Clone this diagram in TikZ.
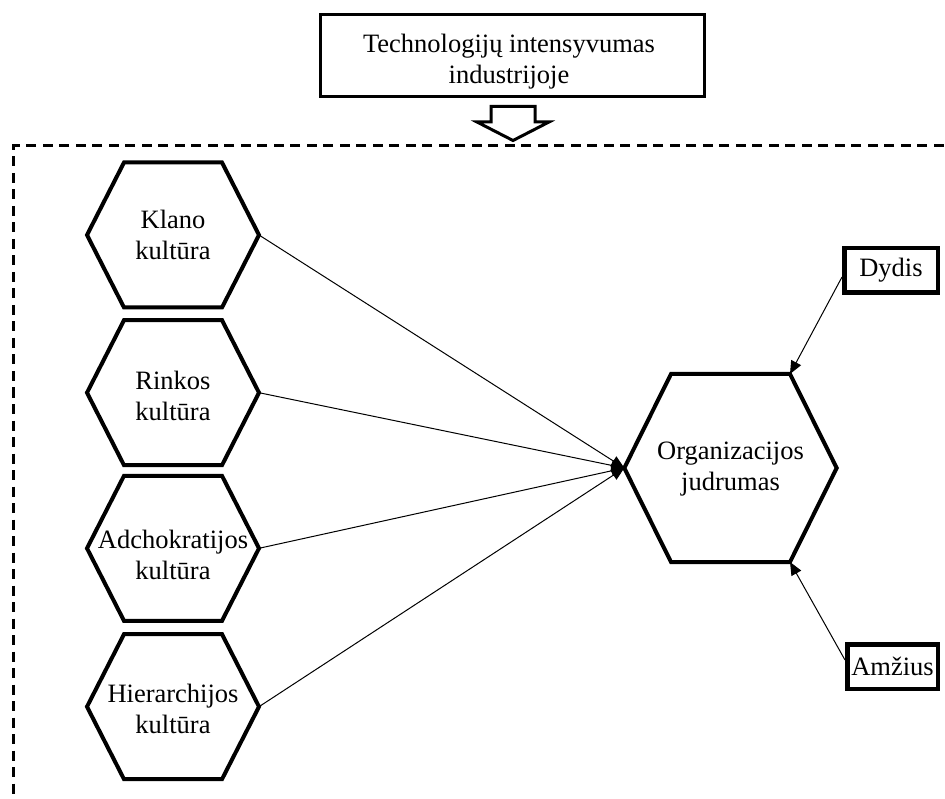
\documentclass[tikz,border=0pt]{standalone}
\usepackage{fontspec}
\setmainfont{Liberation Serif}
\usetikzlibrary{arrows.meta}

% Flat-topped hexagon: name, centre x, centre y, half-width, half top edge, half-height, style
\newcommand{\hexagonat}[7]{%
  \draw[#7] (#2-#4,#3) coordinate (#1-W)
    -- (#2-#5,#3-#6) coordinate (#1-NW)
    -- (#2+#5,#3-#6) coordinate (#1-NE)
    -- (#2+#4,#3) coordinate (#1-E)
    -- (#2+#5,#3+#6) coordinate (#1-SE)
    -- (#2-#5,#3+#6) coordinate (#1-SW)
    -- cycle;}

\begin{document}
\begin{tikzpicture}[x=1pt,y=-1pt,
  hexborder/.style={draw=black,line width=4pt,line join=miter},
  hextext/.style={align=center,font=\fontsize{26.5}{31}\selectfont,inner sep=0pt},
  framebox/.style={draw=black,line width=3.3pt,inner sep=0pt},
  smallbox/.style={draw=black,line width=4.5pt,inner sep=0pt,minimum height=44.5pt,
    font=\fontsize{26.5}{31}\selectfont},
  dashframe/.style={draw=black,line width=3pt,dash pattern=on 10pt off 6.5pt},
  link/.style={draw=black,line width=1pt,-{Triangle[length=13pt,width=11pt]}},
  blockarrow/.style={draw=black,line width=3pt,line join=miter,fill=white}]

\clip (0,0) rectangle (945,799);
\fill[white] (0,0) rectangle (945,799);

% heading box and its block arrow
\node[framebox,minimum width=384pt,minimum height=82pt] (topbox) at (512.5,55.5) {};
\node[align=center,inner sep=0pt,font=\fontsize{26.5}{31}\selectfont] (toptext) at (509,61.4)
  {Technologijų intensyvumas\\industrijoje};
\draw[blockarrow] (491,106.5) -- (535,106.5) -- (535,122) -- (549,122) -- (513,140.5)
  -- (477,122) -- (491,122) -- cycle;

% dashed frame of the model
\draw[dashframe] (960,146) -- (13.5,146) -- (13.5,810);

% culture types
\hexagonat{klano}{173}{235}{86}{49}{72.5}{hexborder}
\node[hextext] (klano) at (173,235.4) {Klano\\kultūra};
\hexagonat{rinkos}{173}{392.7}{86}{49}{72.5}{hexborder}
\node[hextext] (rinkos) at (173,395.5) {Rinkos\\kultūra};
\hexagonat{adch}{173}{548.3}{86}{49}{72.5}{hexborder}
\node[hextext] (adch) at (173,555) {Adchokratijos\\kultūra};
\hexagonat{hier}{173}{706.7}{86}{49}{72.5}{hexborder}
\node[hextext] (hier) at (173,709) {Hierarchijos\\kultūra};

% organisational agility
\hexagonat{org}{730.5}{468}{106.2}{59.5}{94}{hexborder}
\node[hextext] (org) at (730.5,469.5) {Organizacijos\\judrumas};

% control variables
\node[smallbox,minimum width=93.5pt] (dydis) at (891,270.5) {Dydis};
\node[smallbox,minimum width=90.5pt] (amz) at (892.5,666.5) {Amžius};

% links
\draw[link] (klano-E) -- (org-W);
\draw[link] (rinkos-E) -- (org-W);
\draw[link] (adch-E) -- (org-W);
\draw[link] (hier-E) -- (org-W);
\draw[link] ([yshift=-6.5pt]dydis.west) -- (org-NE);
\draw[link] ([yshift=6.5pt]amz.west) -- (org-SE);

\end{tikzpicture}
\end{document}
